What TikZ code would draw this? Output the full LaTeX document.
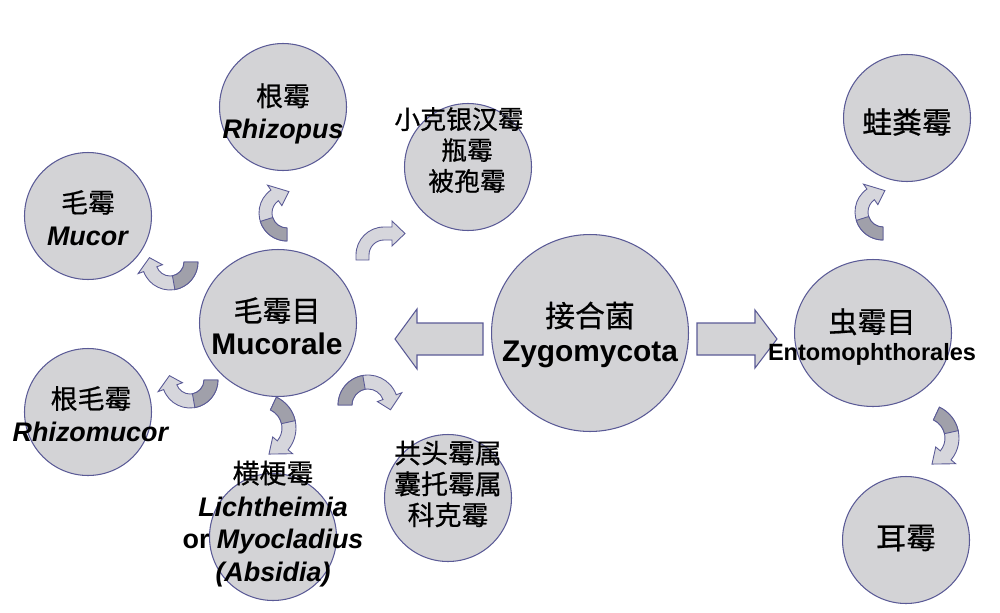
\documentclass[tikz,border=0pt]{standalone}
\usepackage{fontspec}
\setmainfont{Liberation Sans}
\newfontfamily\cjk[FakeBold=0.7]{Noto Sans CJK SC}
\usetikzlibrary{calc,shapes.geometric}

\definecolor{rimblue}{RGB}{90,90,150}
\definecolor{discgray}{RGB}{211,211,214}
\definecolor{arrlight}{RGB}{214,214,220}
\definecolor{arrdark}{RGB}{160,160,170}

\newcommand{\zh}[1]{{\cjk\mdseries #1}}

% curved band arrow: centre, tail angle, head angle, tip angle, inner r, outer r
\newcommand{\bendarr}[6]{%
\pgfmathsetmacro{\arrmid}{(#2+#3)/2}%
\pgfmathsetmacro{\arrrm}{(#5+#6)/2}%
\filldraw [bandlight] ($(#1)+(#2:#5)$) arc [start angle = #2, end angle = #3, radius = #5] -- ($(#1)+(#3:{#5-6})$) -- ($(#1)+(#4:\arrrm)$) -- ($(#1)+(#3:{#6+6})$) -- ($(#1)+(#3:#6)$) arc [start angle = #3, end angle = #2, radius = #6] -- cycle;
\filldraw [banddark] ($(#1)+(#2:#5)$) arc [start angle = #2, end angle = \arrmid, radius = #5] -- ($(#1)+(\arrmid:#6)$) arc [start angle = \arrmid, end angle = #2, radius = #6] -- cycle;
}

\tikzset{
disc/.style = {circle, draw = rimblue, fill = discgray, line width = 0.6pt, inner sep = 0pt, minimum size = 2.54cm},
bigdisc/.style = {disc, minimum size = 3.94cm},
oval/.style = {ellipse, draw = rimblue, fill = discgray, line width = 0.6pt, inner sep = 0pt, minimum width = 3.14cm, minimum height = 2.94cm},
bandlight/.style = {fill = arrlight, draw = rimblue, line width = 0.5pt},
banddark/.style = {fill = arrdark, draw = rimblue, line width = 0.5pt},
blockarr/.style = {fill = discgray, draw = rimblue, line width = 0.6pt},
small/.style = {align = center, inner sep = 0pt, font = \fontsize{15.3}{18.7}\selectfont\bfseries},
big/.style = {align = center, inner sep = 0pt, font = \fontsize{17}{20}\selectfont\bfseries}
}

\begin{document}
\begin{tikzpicture}[x = 0.02cm, y = -0.02cm]
\useasboundingbox (0,0) rectangle (1000,612);

\node [bigdisc] (c1) at (590,333) {};
\node [oval] (c2) at (278,323) {};
\node [oval] (c3) at (873,333) {};
\node [disc] (c4) at (88,216) {};
\node [disc] (c5) at (283,107) {};
\node [disc] (c6) at (468,167) {};
\node [disc] (c7) at (88,412) {};
\node [disc] (c8) at (273,537) {};
\node [disc] (c9) at (448,498) {};
\node [disc] (c10) at (907,118) {};
\node [disc] (c11) at (906,540) {};

\filldraw [blockarr] ($(c1.west)+(-8,-10)$) -- ++(-66,0) -- ++(0,-14) -- ++(-22,30) -- ++(22,30) -- ++(0,-14) -- ++(66,0) -- cycle;
\filldraw [blockarr] ($(c1.east)+(8,-10)$) -- ++(58,0) -- ++(0,-13) -- ++(22,29) -- ++(-22,29) -- ++(0,-13) -- ++(-58,0) -- cycle;

\bendarr{287,213}{90}{235}{275}{15}{28}
\bendarr{883,212}{90}{235}{275}{15}{28}
\bendarr{170,262}{0}{160}{192}{14}{28}
\bendarr{190,380}{0}{160}{192}{14}{28}
\bendarr{262,428}{295}{400}{435}{20}{34}
\bendarr{925,438}{295}{400}{435}{20}{34}
\bendarr{368,405}{180}{340}{372}{16}{30}
\filldraw [bandlight] (356,260) -- (356,255) arc [start angle = 180, end angle = 270, radius = 28] -- (392,227) -- (392,221) -- (405,233.5) -- (392,246) -- (392,240) -- (384,240) arc [start angle = 270, end angle = 180, radius = 15] -- (369,260) -- cycle;

\node [big] (t1) at ($(c1)+(0,2)$) {\zh{接合菌}\\Zygomycota};
\node [big, font = \fontsize{17}{18.7}\selectfont\bfseries] (t2) at ($(c2)+(-1,3)$) {{\fontsize{16.5}{18.7}\selectfont\zh{毛霉目}}\\Mucorale};
\node [big, font = \fontsize{13.4}{16}\selectfont\bfseries] (t3) at ($(c3)+(-1,4)$) {{\fontsize{16.5}{16}\selectfont\zh{虫霉目}}\\Entomophthorales};
\node [small] (t4) at ($(c4)+(0,2)$) {\zh{毛霉}\\\textit{Mucor}};
\node [small] (t5) at ($(c5)+(0,7)$) {\zh{根霉}\\\textit{Rhizopus}};
\node [small, font = \fontsize{14.7}{17.6}\selectfont] (t6) at ($(c6)+(-1,-17)$) {\zh{小克银汉霉}\hspace*{0.32cm}\\\zh{瓶霉}\\\zh{被孢霉}};
\node [small] (t7) at ($(c7)+(3,2)$) {\zh{根毛霉}\\\textit{Rhizomucor}};
\node [small] (t8) at ($(c8)+(0,-13)$) {\zh{横梗霉}\\\textit{Lichtheimia}\\or \textit{Myocladius}\\\textit{(Absidia)}};
\node [small, font = \fontsize{15.3}{17.6}\selectfont] (t9) at ($(c9)+(0,-14)$) {\zh{共头霉属}\\\zh{囊托霉属}\\\zh{科克霉}};
\node [big] (t10) at ($(c10)+(0,4)$) {\zh{蛙粪霉}};
\node [big] (t11) at ($(c11)+(0,-2)$) {\zh{耳霉}};
\end{tikzpicture}
\end{document}
